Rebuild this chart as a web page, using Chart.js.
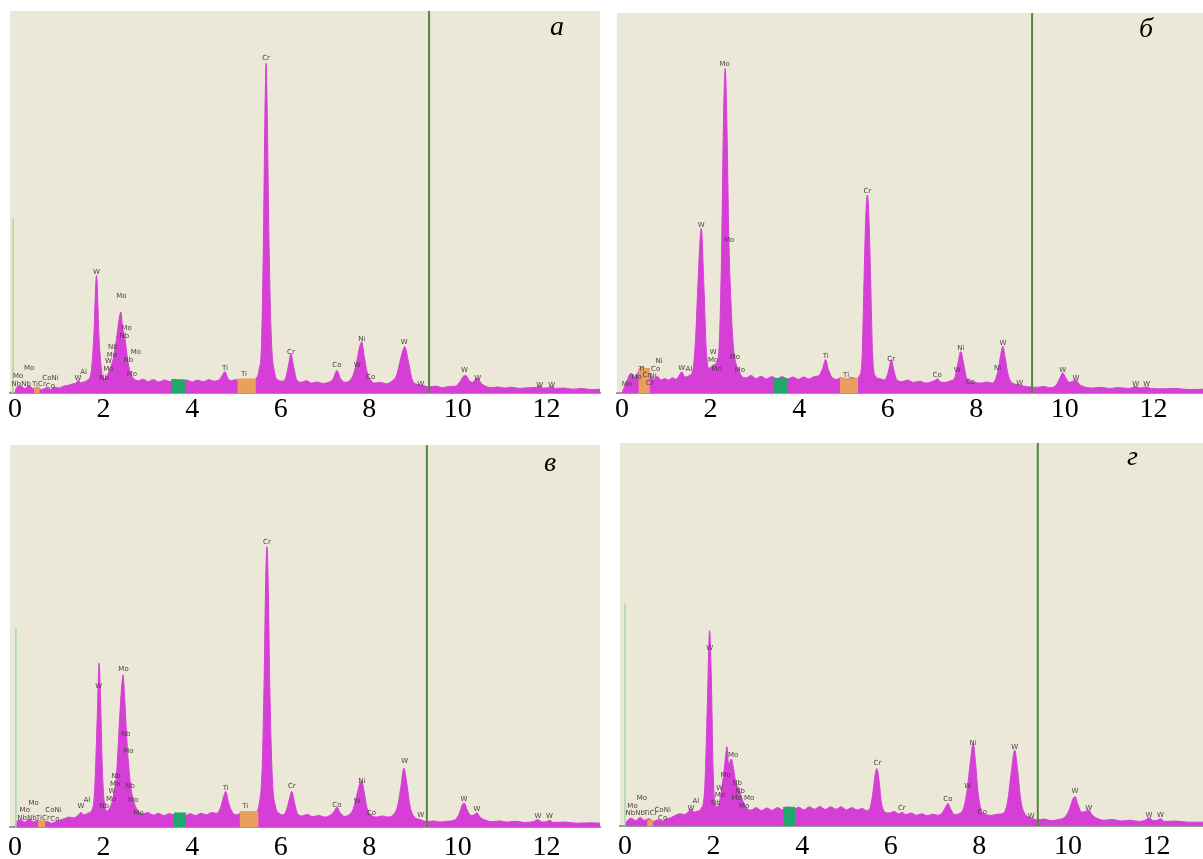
<!DOCTYPE html>
<html>
<head>
<meta charset="utf-8">
<script src="https://cdn.jsdelivr.net/npm/chart.js@4.4.1/dist/chart.umd.min.js"></script>
<style>
body { margin:0; background:#fff; width:1203px; height:859px; position:relative; overflow:hidden; }
.pane { position:absolute; }
.letter { position:absolute; font: italic 28px "Liberation Serif", serif; color:#000; line-height:28px; }
</style>
</head>
<body>
<div class="pane" style="left:0;top:0;width:602px;height:430px"><canvas id="specA"></canvas></div>
<div class="pane" style="left:605px;top:0;width:598px;height:430px"><canvas id="specB"></canvas></div>
<div class="pane" style="left:0;top:432px;width:602px;height:427px"><canvas id="specC"></canvas></div>
<div class="pane" style="left:605px;top:432px;width:598px;height:427px"><canvas id="specD"></canvas></div>
<div class="letter" style="left:550px;top:12px">а</div>
<div class="letter" style="left:1139px;top:14px">б</div>
<div class="letter" style="left:544px;top:448px">в</div>
<div class="letter" style="left:1127px;top:442px">г</div>
<script>
// energy axis tick labels
var tickValues = [0, 2, 4, 6, 8, 10, 12];

// spectrum a
var energyA = [0,0.03,0.12,0.22,0.32,0.42,0.5,0.6,0.7,0.8,0.9,1,1.1,1.2,1.3,1.38,1.43,1.48,1.56,1.64,1.72,1.78,1.84,1.9,1.96,2.02,2.08,2.15,2.22,2.29,2.34,2.39,2.43,2.48,2.54,2.6,2.68,2.78,2.9,3,3.12,3.25,3.38,3.5,3.62,3.75,3.88,4,4.12,4.25,4.38,4.5,4.62,4.69,4.74,4.8,4.88,4.98,5.1,5.22,5.34,5.44,5.51,5.57,5.61,5.645,5.67,5.695,5.735,5.79,5.86,5.94,6.04,6.12,6.18,6.23,6.29,6.36,6.46,6.58,6.7,6.82,6.95,7.08,7.18,7.27,7.35,7.45,7.55,7.64,7.72,7.78,7.83,7.88,7.95,8.02,8.12,8.25,8.38,8.5,8.62,8.72,8.8,8.88,8.97,9.08,9.2,9.35,9.5,9.65,9.8,9.95,10.05,10.12,10.18,10.26,10.33,10.4,10.45,10.52,10.62,10.75,10.9,11.05,11.2,11.4,11.6,11.78,11.85,11.92,12.05,12.12,12.2,12.4,12.6,12.8,13,13.21];
var countsA = [0,1.3,1.8,1.2,1.9,1.1,1.6,0.9,1.3,1,1.5,1.3,1.8,2,2.4,2.6,3.4,2.7,2.9,3.4,5.5,15,30.8,14,5.5,3.8,4.6,6.5,9,14,18.5,21.2,17,14.5,9,5.5,3.8,3.2,3.6,3,3.5,2.9,3.4,3,3.6,3,3.4,2.9,3.4,3,3.5,3.1,3.6,4.8,5.6,4,3.2,3.5,3,3.4,3.1,3.8,6,14,40,74,86.3,74,40,14,5.5,3.4,3.1,4.2,7.5,10.3,7,3.5,2.8,3.2,2.6,2.9,2.5,2.8,3.6,5.9,3.8,2.8,3.2,4.8,8.5,12,13.4,10,5.5,3.6,2.6,2.8,2.4,3,4.8,9.5,12.1,8.5,3.5,2.3,2,1.6,1.8,1.4,1.7,1.8,3,4.3,4.6,3.2,2.8,3.6,3.8,2.6,1.8,1.4,1.6,1.3,1.5,1.2,1.4,1.5,1.9,1.3,1.4,1.7,1.2,1.3,1,1.2,0.9,1];

// spectrum б
var energyB = [0,0.05,0.12,0.2,0.28,0.34,0.4,0.48,0.56,0.63,0.72,0.8,0.88,0.96,1.05,1.14,1.22,1.3,1.35,1.42,1.52,1.6,1.66,1.72,1.79,1.85,1.9,1.96,2.02,2.08,2.14,2.2,2.25,2.29,2.33,2.37,2.41,2.46,2.51,2.56,2.62,2.7,2.8,2.92,3.02,3.14,3.26,3.38,3.5,3.62,3.74,3.86,3.98,4.1,4.22,4.34,4.45,4.53,4.6,4.66,4.74,4.84,4.95,5.07,5.18,5.29,5.36,5.42,5.47,5.51,5.54,5.57,5.61,5.66,5.72,5.82,5.92,6,6.04,6.08,6.13,6.2,6.32,6.45,6.58,6.72,6.86,7,7.08,7.12,7.18,7.3,7.42,7.52,7.58,7.65,7.71,7.78,7.86,7.96,8.1,8.24,8.36,8.44,8.5,8.56,8.6,8.65,8.72,8.82,8.95,9.08,9.22,9.38,9.52,9.66,9.8,9.9,9.95,10.02,10.1,10.18,10.25,10.32,10.45,10.6,10.8,11,11.2,11.45,11.6,11.7,11.85,11.95,12.2,12.5,12.8,13.12];
var countsB = [0,1.5,3.5,5.2,4,4.8,6.4,6.8,5.5,4.8,3.6,4.4,3.4,3.8,3.4,4,3.6,4.8,5.6,4.2,4.6,6,14,30,43.3,28,12,6.5,7,7.5,8,14,38,70,85.4,70,42,24,13,8.5,6.5,4.5,4,4.6,3.8,4.4,3.7,4.3,3.8,4.3,3.7,4.2,3.6,4.2,3.7,4.3,4.6,6.5,8.8,6.2,4.2,3.6,4,3.6,4.1,3.8,4.5,9,32,48,52.1,48,32,10,4.5,3.8,3.4,5,7,8.8,6.5,3.6,3,3.4,2.8,3.1,2.6,3,3.4,3.8,3,2.8,3.2,4.2,7.5,10.9,8,4,3.2,2.8,2.6,2.9,2.6,3.8,6.5,10.5,12.3,9.5,4.8,2.6,2.2,1.8,1.6,1.5,1.7,1.4,2,4.2,5.3,4,2.8,3.1,3.5,2.4,1.6,1.3,1.5,1.2,1.4,1.2,1.7,1.3,1.6,1.2,1.1,1.2,0.9,1];

// spectrum в
var energyC = [0,0.03,0.12,0.22,0.32,0.42,0.52,0.62,0.72,0.82,0.92,1.02,1.12,1.22,1.32,1.42,1.49,1.56,1.64,1.74,1.8,1.86,1.9,1.93,1.97,2.02,2.08,2.14,2.22,2.3,2.36,2.41,2.44,2.48,2.52,2.56,2.62,2.7,2.78,2.88,3,3.12,3.24,3.36,3.48,3.6,3.72,3.84,3.96,4.08,4.2,4.32,4.44,4.55,4.64,4.7,4.76,4.82,4.9,5,5.1,5.22,5.34,5.44,5.52,5.58,5.625,5.66,5.69,5.72,5.755,5.81,5.88,5.96,6.06,6.14,6.2,6.25,6.31,6.38,6.48,6.6,6.72,6.86,7,7.12,7.2,7.27,7.34,7.44,7.54,7.64,7.72,7.79,7.83,7.88,7.95,8.04,8.16,8.3,8.42,8.54,8.64,8.72,8.78,8.84,8.92,9.02,9.14,9.3,9.45,9.6,9.75,9.92,10.02,10.1,10.14,10.22,10.3,10.37,10.43,10.5,10.62,10.78,10.95,11.1,11.3,11.5,11.7,11.81,11.9,12,12.07,12.15,12.4,12.7,13,13.21];
var countsC = [0,1.2,1.8,1.3,2,1.4,1.8,1.1,1.5,1,1.4,1.8,2.2,2.6,2.4,3,3.8,3.2,3.6,4.5,10,30,42.9,34,16,6,4.2,5,8,15,28,37,39.8,33,24,17,10,6,4.2,3.4,3.8,3.1,3.6,3,3.5,3.2,3.6,3,3.5,3,3.6,3.2,3.8,3.6,5,7.5,9.3,6.5,4,3.2,3.6,3.1,3.6,3.9,6.5,15,38,64,73.4,62,36,13,5.5,3.6,3.2,4.8,7.5,9.3,6.5,3.5,2.9,3.3,2.7,3,2.6,3.1,4,5.2,3.8,2.8,3.2,4.8,8.5,11.5,12,9.5,5,3.2,2.6,2.9,2.6,3.2,5.5,11,15.4,12,5.5,2.6,2,1.4,1.6,1.3,1.5,1.8,3.2,5.8,6.3,4.2,3,3.2,3.7,2.6,1.8,1.4,1.6,1.3,1.5,1.2,1.4,1.9,1.3,1.4,1.8,1.2,1.3,1,1.1,1];

// spectrum г
var energyD = [0,0.05,0.14,0.24,0.34,0.44,0.54,0.64,0.74,0.84,0.94,1.04,1.14,1.24,1.34,1.42,1.49,1.56,1.64,1.72,1.8,1.86,1.91,1.95,1.99,2.04,2.1,2.16,2.22,2.27,2.3,2.34,2.4,2.45,2.5,2.56,2.62,2.68,2.76,2.86,2.96,3.08,3.2,3.32,3.44,3.56,3.68,3.8,3.92,4.04,4.16,4.28,4.4,4.52,4.64,4.76,4.88,5,5.12,5.24,5.36,5.46,5.54,5.6,5.65,5.69,5.73,5.79,5.86,5.96,6.08,6.18,6.25,6.34,6.46,6.58,6.7,6.82,6.94,7.06,7.16,7.24,7.29,7.35,7.44,7.54,7.64,7.72,7.8,7.86,7.91,7.97,8.04,8.14,8.28,8.42,8.54,8.64,8.72,8.8,8.86,8.94,9.04,9.16,9.3,9.46,9.62,9.78,9.92,10.04,10.11,10.16,10.23,10.31,10.4,10.47,10.54,10.66,10.82,11,11.2,11.4,11.6,11.76,11.83,11.92,12.02,12.09,12.18,12.45,12.7,13.05];
var countsD = [0,1.3,2,1.4,2.2,1.5,1.9,1.2,1.6,1.3,1.8,2.2,2.8,3.2,3,3.6,4.4,3.6,3.9,4.6,10,32,51,38,14,5.5,5,8,13,18,20.7,16,17.5,15,11.5,10,8,6,4.5,4.2,4.8,4,4.7,4.1,4.8,4.2,5,4.3,4.9,4.2,5,4.4,5.1,4.3,5,4.4,5,4.2,4.8,4.2,4.6,4,5,9,13.5,15,12.5,6,3.8,3.4,3.8,3.2,3.6,3,3.4,2.8,3.2,2.7,3.1,2.8,3.4,5,5.9,4.5,3,3.2,4.5,9,17,21.6,17,9,4.2,3,2.8,3.1,3.3,6.5,14,19.8,15,6.5,3,2.2,1.6,1.8,1.4,1.7,2.2,4.5,7,7.7,5.5,3.6,3.8,4.2,3,2,1.5,1.7,1.3,1.5,1.2,1.6,2.2,1.4,1.5,1.9,1.2,1.3,1,1];

// marker lines and analysis windows: [а, б, в, г]
var markerEnergy = [9.35, 9.26, 9.3, 9.32];
var limitEnergy = [-0.045, null, 0.02, 0];
var limitHeight = [45.7, 0, 52, 58];
var windowGreen = [[3.52, 3.84, 3.6], [3.43, 3.75, 3.9], [3.59, 3.86, 3.8], [3.57, 3.84, 5]];
var windowOrange = [[5.02, 5.44, 3.8], [4.92, 5.33, 3.9], [5.07, 5.5, 4.2], null];
var windowSmall = [[0.43, 0.56, 1.6], [0.37, 0.63, 6.6], [0.52, 0.68, 1.8], [0.5, 0.63, 1.6]];

// peak labels: [text, energy, height]
var peaksA = [['Cr',5.67,87.6],['W',1.84,31.6],['Mo',2.4,25.3],['Mo',2.52,17],['Nb',2.47,14.9],['Nb',2.21,12],['Mo',2.19,10],['W',2.11,8.2],['Mo',2.11,6.2],['Mo',2.73,10.6],['Nb',2.56,8.6],['Mo',2.64,4.9],['Nb',2.01,4],['Al',1.55,5.5],['W',1.42,3.9],['Mo',0.32,6.4],['Mo',0.07,4.4],['NbNb',0.14,2.4],['TiCr',0.54,2.4],['CoNi',0.8,3.9],['Co',0.8,1.7],['Ti',4.74,6.6],['Ti',5.17,4.8],['Cr',6.23,10.8],['Co',7.27,7.2],['W',7.73,7.2],['Ni',7.83,14.2],['Co',8.03,4.2],['W',8.79,13.2],['W',9.16,2.4],['W',10.15,6.1],['W',10.45,4],['W',11.85,2.1],['W',12.12,2.1]];
var peaksB = [['Mo',2.32,86.6],['W',1.79,44.2],['Mo',2.42,40.1],['Cr',5.54,53.2],['W',2.06,10.7],['Mo',2.06,8.6],['Mo',2.14,6.3],['Mo',2.55,9.5],['Mo',2.66,6.1],['W',1.35,6.6],['Al',1.51,6.3],['Ni',0.84,8.3],['Co',0.76,6.3],['Ti',0.44,6.3],['Cr',0.55,4.8],['Ni',0.7,4.4],['Mo',0.33,4.2],['Mo',0.11,2.2],['Cr',0.63,2.6],['Ti',4.6,9.6],['Ti',5.06,4.8],['Cr',6.08,8.9],['Co',7.12,4.6],['W',7.57,6],['Ni',7.65,11.8],['Co',7.87,2.8],['Ni',8.48,6.6],['W',8.6,13.1],['W',8.98,2.6],['W',9.95,6],['W',10.25,3.9],['W',11.6,2.2],['W',11.85,2.2]];
var peaksC = [['Cr',5.69,74.6],['W',1.89,36.8],['Mo',2.45,41.3],['Nb',2.5,24.4],['Mo',2.56,19.8],['Nb',2.28,13.3],['Mo',2.26,11.3],['W',2.19,9.3],['Mo',2.17,7.3],['Nb',2.6,10.6],['Mo',2.67,7.1],['Mo',2.79,3.7],['Nb',2.01,5.4],['Al',1.62,7.1],['W',1.49,5.4],['Mo',0.42,6.3],['Mo',0.22,4.4],['NbNb',0.27,2.4],['TiCr',0.63,2.4],['CoNi',0.87,4.5],['Co',0.9,2.1],['Ti',4.76,10.2],['Ti',5.2,5.4],['Cr',6.25,10.6],['Co',7.27,5.8],['W',7.73,6.7],['Ni',7.83,12.1],['Co',8.05,3.7],['W',8.8,17.2],['W',9.16,3],['W',10.14,7.3],['W',10.43,4.7],['W',11.81,2.8],['W',12.07,2.8]];
var peaksD = [['W',1.91,46.3],['Mo',2.44,18.5],['Mo',2.27,13.3],['W',2.14,9.8],['Mo',2.14,8.1],['Nb',2.53,11.1],['Nb',2.6,9.2],['Mo Mo',2.66,7.2],['Mo',2.69,5.2],['Nb',2.05,5.9],['Al',1.6,6.6],['W',1.49,4.6],['Mo',0.38,7.2],['Mo',0.17,5.2],['NbNb',0.23,3.3],['TiCr',0.58,3.3],['CoNi',0.85,4.2],['Co',0.85,2],['Cr',5.7,16.3],['Cr',6.25,4.6],['Co',7.29,7],['W',7.74,10.4],['Ni',7.86,21.7],['Co',8.07,3.7],['W',8.8,20.5],['W',9.17,2.6],['W',10.16,9],['W',10.47,4.6],['W',11.83,2.9],['W',12.09,2.9]];

var beige = '#ece8d8';
var magenta = '#d63fd6';

function toPoints(xs, ys) {
	var pts = [];
	for (var i in xs) {
		pts.push({x: xs[i], y: ys[i]});
	}
	return pts;
}

function windowSet(w, color) {
	return {
		data: [{x: w[0], y: 0}, {x: w[0], y: w[2]}, {x: w[1], y: w[2]}, {x: w[1], y: 0}],
		backgroundColor: color,
		borderColor: color,
		borderWidth: 0,
		pointRadius: 0,
		fill: 'origin',
		order: 2
	};
}

function drawSpectrum(id, k, xs, ys, peaks, xMax, pad, axisH, tickPad) {
	var sets = [];
	sets.push({
		data: [{x: markerEnergy[k], y: 0}, {x: markerEnergy[k], y: 100}],
		borderColor: '#4d8a3b',
		borderWidth: 2,
		pointRadius: 0,
		fill: false,
		order: 0
	});
	if (limitEnergy[k] !== null) {
		sets.push({
			data: [{x: limitEnergy[k], y: 0}, {x: limitEnergy[k], y: limitHeight[k]}],
			borderColor: '#a9d6a4',
			borderWidth: 1.5,
			pointRadius: 0,
			fill: false,
			order: 0
		});
	}
	sets.push(windowSet(windowGreen[k], '#1fa86a'));
	if (windowOrange[k]) sets.push(windowSet(windowOrange[k], '#e9a05e'));
	sets.push(windowSet(windowSmall[k], '#e9a05e'));
	sets.push({
		data: toPoints(xs, ys),
		backgroundColor: magenta,
		borderColor: magenta,
		borderWidth: 1,
		pointRadius: 0,
		fill: 'origin',
		cubicInterpolationMode: 'monotone',
		order: 3
	});

	var background = {
		id: 'background',
		beforeDraw: function(chart) {
			var a = chart.chartArea;
			var ctx = chart.ctx;
			ctx.save();
			ctx.fillStyle = beige;
			ctx.fillRect(a.left, a.top, a.right - a.left, a.bottom - a.top);
			ctx.restore();
		}
	};
	var labels = {
		id: 'peakLabels',
		afterDatasetsDraw: function(chart) {
			var ctx = chart.ctx;
			var sx = chart.scales.x, sy = chart.scales.y;
			ctx.save();
			ctx.font = '7px "DejaVu Sans"';
			ctx.fillStyle = '#4a4040';
			ctx.textAlign = 'center';
			ctx.textBaseline = 'middle';
			for (var i in peaks) {
				ctx.fillText(peaks[i][0], sx.getPixelForValue(peaks[i][1]), sy.getPixelForValue(peaks[i][2]));
			}
			ctx.restore();
		}
	};

	new Chart(document.getElementById(id), {
		type: 'line',
		data: { datasets: sets },
		plugins: [background, labels],
		options: {
			responsive: true,
			maintainAspectRatio: false,
			animation: false,
			layout: { padding: pad },
			plugins: { legend: { display: false }, tooltip: { enabled: false } },
			scales: {
				x: {
					type: 'linear',
					min: -0.113,
					max: xMax,
					afterBuildTicks: function(s) {
						s.ticks = tickValues.map(function(v) { return {value: v}; });
					},
					afterFit: function(s) { s.height = axisH; },
					grid: { display: false, drawTicks: false },
					border: { display: true, color: '#9b9b9b', width: 2, dash: [1, 3] },
					ticks: {
						color: '#000',
						padding: tickPad,
						maxRotation: 0,
						autoSkip: false,
						font: { family: '"Liberation Serif", serif', size: 28 }
					}
				},
				y: {
					display: false,
					min: 0,
					max: 100
				}
			}
		}
	});
}

drawSpectrum('specA', 0, energyA, countsA, peaksA, 13.21, {left: 10, top: 11, right: 2, bottom: 0}, 37, 0);
drawSpectrum('specB', 1, energyB, countsB, peaksB, 13.12, {left: 12, top: 13, right: 0, bottom: 0}, 37, 0);
drawSpectrum('specC', 2, energyC, countsC, peaksC, 13.21, {left: 10, top: 13, right: 2, bottom: 0}, 32, 4);
drawSpectrum('specD', 3, energyD, countsD, peaksD, 13.05, {left: 15, top: 11, right: 0, bottom: 0}, 33, 4);
</script>
</body>
</html>
